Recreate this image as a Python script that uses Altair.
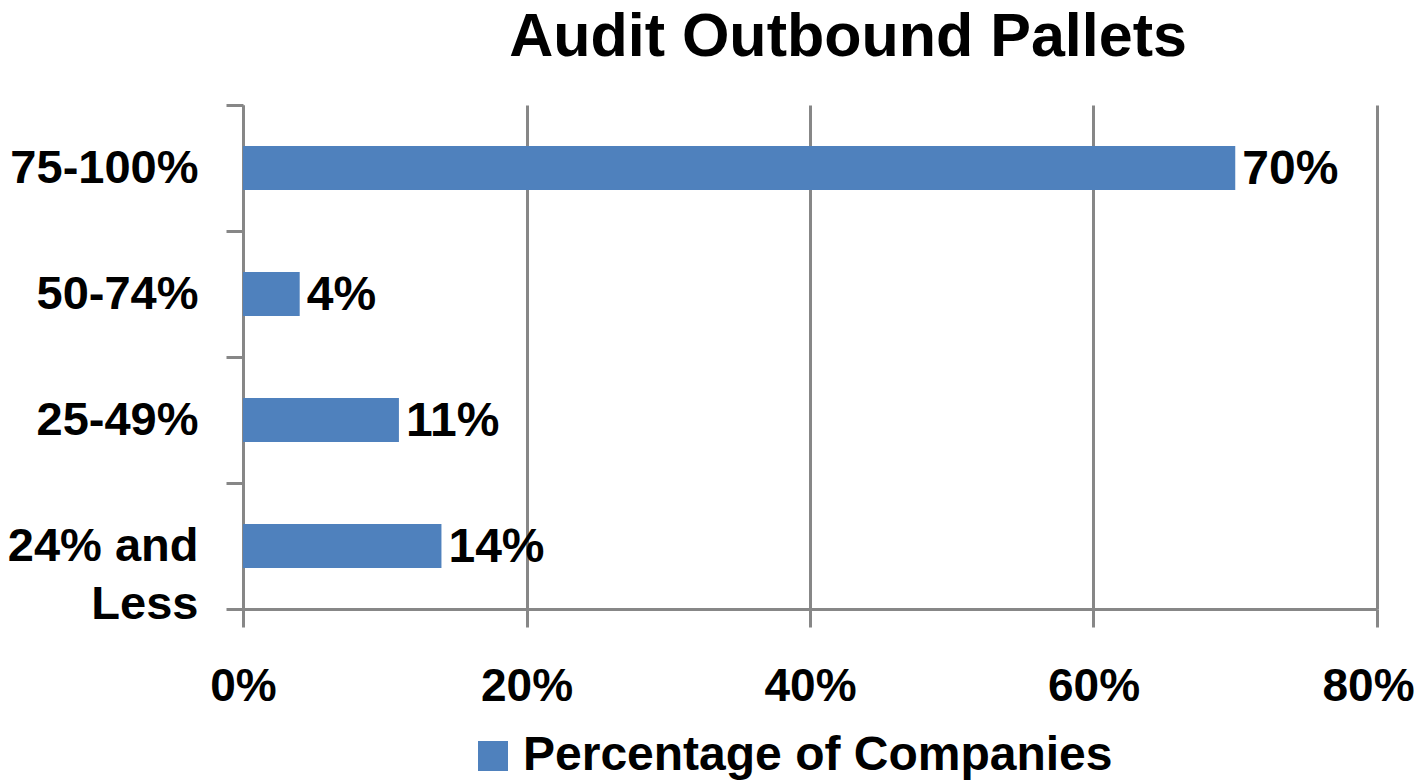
import altair as alt
import pandas as pd

categories = ["75-100%", "50-74%", "25-49%", "24% and Less"]
values = [0.70, 0.04, 0.11, 0.14]
series_name = "Percentage of Companies"
x_ticks = [0, 0.2, 0.4, 0.6, 0.8]

df = pd.DataFrame({"cat": categories, "val": values, "series": series_name})

FONT = "Liberation Sans"
GRID = "#878787"
BAR = "#4F81BD"
FS = 48

y_enc = alt.Y(
    "cat:N",
    sort=categories,
    title=None,
    scale=alt.Scale(paddingInner=0, paddingOuter=0),
    axis=alt.Axis(
        tickBand="extent",
        tickSize=17,
        tickWidth=3,
        tickColor=GRID,
        domainColor=GRID,
        domainWidth=3,
        labelFont=FONT,
        labelFontSize=47,
        labelFontWeight="bold",
        labelColor="black",
        labelPadding=28,
        labelLineHeight=58,
        labelLimit=400,
        labelExpr="datum.value == '24% and Less' ? ['24% and', 'Less'] : datum.label",
        grid=False,
    ),
)

x_enc = alt.X(
    "val:Q",
    title=None,
    scale=alt.Scale(domain=[0, 0.8], nice=False),
    axis=alt.Axis(
        values=x_ticks,
        format=".0%",
        grid=True,
        gridColor=GRID,
        gridWidth=3,
        gridOpacity=1,
        tickSize=18,
        tickWidth=3,
        tickColor=GRID,
        domainColor=GRID,
        domainWidth=3,
        labelFont=FONT,
        labelFontSize=46,
        labelFontWeight="bold",
        labelColor="black",
        labelPadding=37,
        labelFlush=False,
        labelOffset=alt.condition("datum.value >= 0.8", alt.value(-9), alt.value(0)),
    ),
)

bars = alt.Chart(df).mark_bar(color=BAR, height=alt.RelativeBandSize(0.35)).encode(
    y=y_enc,
    x=x_enc,
    color=alt.Color(
        "series:N",
        scale=alt.Scale(range=[BAR]),
        legend=alt.Legend(
            title=None,
            orient="none",
            legendX=226,
            legendY=627,
            padding=0,
            symbolType="square",
            symbolSize=900,
            symbolStrokeWidth=0,
            symbolOpacity=1,
            labelOffset=6,
            labelFont=FONT,
            labelFontSize=FS,
            labelFontWeight="bold",
            labelColor="black",
            labelLimit=800,
        ),
    ),
)

texts = alt.Chart(df).mark_text(
    align="left", baseline="middle", dx=7, dy=2, font=FONT, fontSize=FS, fontWeight="bold", color="black"
).encode(
    y=alt.Y("cat:N", sort=categories),
    x=alt.X("val:Q"),
    text=alt.Text("val:Q", format=".0%"),
)

chart = (
    alt.layer(bars, texts)
    .properties(
        width=1134,
        height=504,
        autosize=alt.AutoSizeParams(type="none"),
        padding={"left": 235, "top": 97, "right": 37, "bottom": 173},
        title=alt.Title(
            "Audit Outbound Pallets",
            font=FONT,
            fontSize=61,
            fontWeight="bold",
            color="black",
            anchor="middle",
            dx=38,
            offset=12,
        ),
    )
    .configure_view(stroke=None)
)

chart.save("out.html", embed_options={"renderer": "svg", "actions": False})
